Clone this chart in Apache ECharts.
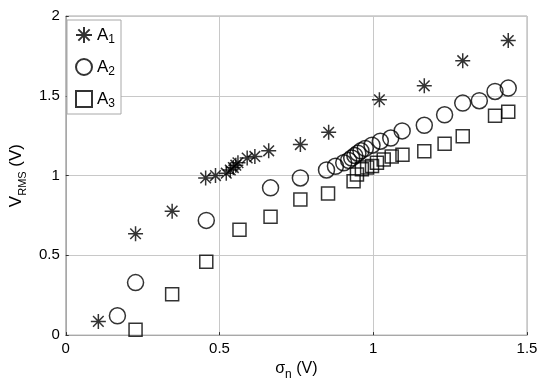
<!DOCTYPE html>
<html><head><meta charset="utf-8">
<script src="https://cdn.jsdelivr.net/npm/echarts@6/dist/echarts.min.js"></script>
<style>html,body{margin:0;padding:0;background:#fff}#c{width:550px;height:386px}</style>
</head><body><div id="c"></div>
<script>
const A1x = [0.106, 0.227, 0.346, 0.455, 0.487, 0.522, 0.535, 0.545, 0.553, 0.56, 0.59, 0.615, 0.66, 0.763, 0.855, 1.02, 1.166, 1.291, 1.439];
const A1y = [0.086, 0.635, 0.777, 0.985, 1.0, 1.015, 1.035, 1.05, 1.065, 1.08, 1.11, 1.12, 1.155, 1.194, 1.271, 1.475, 1.5625, 1.72, 1.846];
const A2x = [0.168, 0.227, 0.457, 0.666, 0.763, 0.848, 0.877, 0.904, 0.92, 0.93, 0.94, 0.95, 0.96, 0.974, 0.996, 1.023, 1.057, 1.094, 1.166, 1.232, 1.291, 1.345, 1.396, 1.439];
const A2y = [0.121, 0.329, 0.719, 0.923, 0.985, 1.035, 1.058, 1.08, 1.095, 1.11, 1.125, 1.14, 1.155, 1.17, 1.19, 1.215, 1.235, 1.28, 1.315, 1.381, 1.454, 1.469, 1.527, 1.548];
const A3x = [0.227, 0.346, 0.457, 0.565, 0.666, 0.763, 0.853, 0.936, 0.947, 0.963, 0.98, 0.996, 1.012, 1.034, 1.06, 1.095, 1.166, 1.232, 1.291, 1.396, 1.439];
const A3y = [0.033, 0.256, 0.46, 0.66, 0.742, 0.85, 0.8875, 0.965, 1.006, 1.04, 1.05, 1.06, 1.08, 1.10, 1.12, 1.131, 1.152, 1.2, 1.246, 1.375, 1.40];
const seriesNames = ['A1', 'A2', 'A3'];
const subs = {A1: '1', A2: '2', A3: '3'};

const zip = (xs, ys) => xs.map((x, i) => [x, ys[i]]);
const FONT = 'Liberation Sans, Arial, sans-serif';
const star = 'path://M0,-10L0,10M-10,0L10,0M-7.07,-7.07L7.07,7.07M-7.07,7.07L7.07,-7.07';
const mk = {color: 'rgba(0,0,0,0)', borderColor: '#000', borderWidth: 1.5};

const chart = echarts.init(document.getElementById('c'));
chart.setOption({
  animation: false,
  backgroundColor: '#fff',
  grid: {left: 65, right: 23, top: 16, bottom: 50, show: true, borderColor: '#a8a8a8', borderWidth: 1},
  legend: {
    orient: 'vertical', left: 67, top: 20, padding: [6, 6, 4, 8],
    borderColor: '#a8a8a8', borderWidth: 1, backgroundColor: '#fff',
    itemWidth: 16, itemHeight: 16, itemGap: 12,
    data: seriesNames,
    formatter: n => '{a|A}{s|' + subs[n] + '}',
    textStyle: {
      fontFamily: FONT, color: '#000',
      rich: {a: {fontSize: 17, fontFamily: FONT}, s: {fontSize: 12, fontFamily: FONT, verticalAlign: 'bottom', padding: [10, 0, 0, 0]}}
    }
  },
  xAxis: {
    type: 'value', min: 0, max: 1.5, interval: 0.5,
    name: '{a|σ}{s|n}{a| (V)}', nameLocation: 'middle', nameGap: 19,
    nameTextStyle: {rich: {a: {fontSize: 16, fontFamily: FONT, color: '#000'}, s: {fontSize: 12, fontFamily: FONT, color: '#000', padding: [12, 0, 0, 0]}}},
    axisLine: {show: true, lineStyle: {color: '#a8a8a8'}},
    axisTick: {show: true, inside: true, length: 3, lineStyle: {color: '#333'}},
    splitLine: {show: true, lineStyle: {color: '#c8c8c8', width: 1}},
    axisLabel: {fontSize: 15, fontFamily: FONT, color: '#000', margin: 6, formatter: v => String(v)}
  },
  yAxis: {
    type: 'value', min: 0, max: 2, interval: 0.5,
    name: '{a|V}{s|RMS}{a| (V)}', nameLocation: 'middle', nameGap: 28, nameRotate: 90,
    nameTextStyle: {rich: {a: {fontSize: 17, fontFamily: FONT, color: '#000'}, s: {fontSize: 11, fontFamily: FONT, color: '#000', padding: [12, 0, 0, 0]}}},
    axisLine: {show: true, lineStyle: {color: '#a8a8a8'}},
    axisTick: {show: true, inside: true, length: 3, lineStyle: {color: '#333'}},
    splitLine: {show: true, lineStyle: {color: '#c8c8c8', width: 1}},
    axisLabel: {fontSize: 15, fontFamily: FONT, color: '#000', margin: 6, formatter: v => String(v)}
  },
  series: [
    {name: 'A1', type: 'scatter', symbol: star, symbolSize: 15, itemStyle: mk, data: zip(A1x, A1y)},
    {name: 'A2', type: 'scatter', symbol: 'circle', symbolSize: 16, itemStyle: mk, data: zip(A2x, A2y)},
    {name: 'A3', type: 'scatter', symbol: 'rect', symbolSize: 13, itemStyle: mk, data: zip(A3x, A3y)}
  ]
});
</script></body></html>
